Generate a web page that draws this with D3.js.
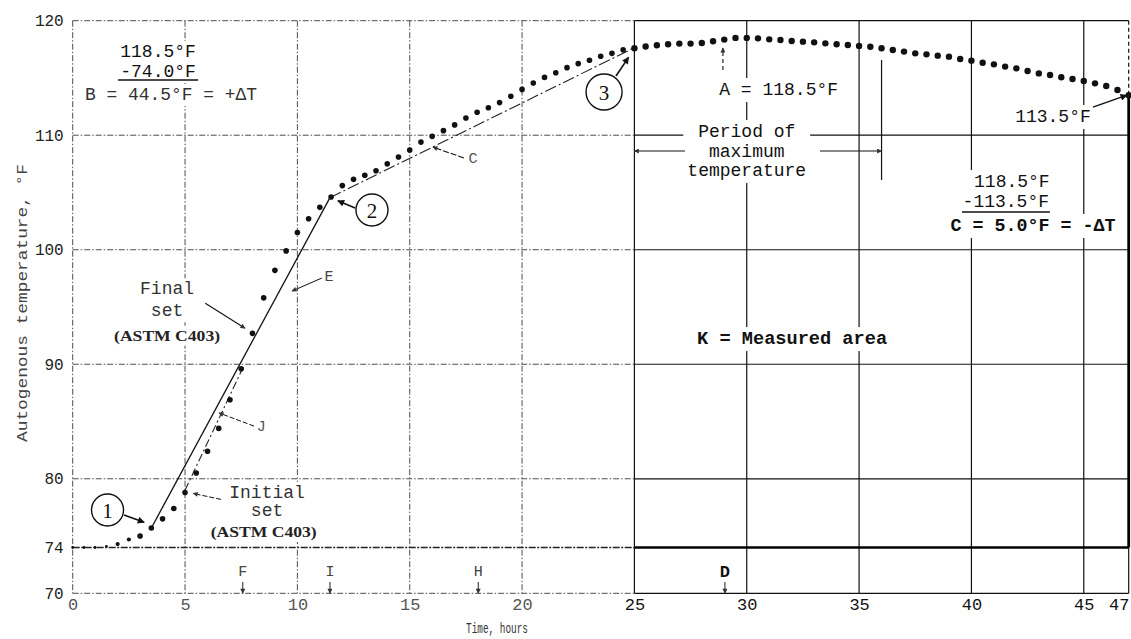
<!DOCTYPE html>
<html><head><meta charset="utf-8">
<script src="https://cdn.jsdelivr.net/npm/d3@7"></script>
<style>body{margin:0;background:#fff}svg{display:block}</style>
</head><body>
<svg id="chart" width="1131" height="639"></svg>
<script>
// ---------------- DATA ----------------
const hours = [0,0.5,1,1.5,2,2.5,3,3.5,4,4.5,
  5,5.5,6,6.5,7,7.5,8,8.5,9,9.5,
  10,10.5,11,11.5,12,12.5,13,13.5,14,14.5,
  15,15.5,16,16.5,17,17.5,18,18.5,19,19.5,
  20,20.5,21,21.5,22,22.5,23,23.5,24,24.5,
  25,25.5,26,26.5,27,27.5,28,28.5,29,29.5,
  30,30.5,31,31.5,32,32.5,33,33.5,34,34.5,
  35,35.5,36,36.5,37,37.5,38,38.5,39,39.5,
  40,40.5,41,41.5,42,42.5,43,43.5,44,44.5,
  45,45.5,46,46.5,47];
const temps = [74.0,74.0,74.0,74.1,74.3,74.7,75.0,75.7,76.5,77.4,
  78.8,80.5,82.4,84.4,86.9,89.6,92.7,95.8,98.2,99.9,
  101.5,102.7,103.7,104.6,105.6,106.15,106.5,106.9,107.5,108.1,
  108.7,109.4,109.9,110.4,110.9,111.5,112.0,112.4,112.85,113.4,
  114.0,114.55,115.05,115.45,115.9,116.25,116.55,116.9,117.15,117.45,
  117.6,117.75,117.85,117.95,118.0,118.0,118.05,118.2,118.35,118.5,
  118.5,118.46,118.37,118.31,118.23,118.17,118.11,118.02,117.95,117.88,
  117.79,117.73,117.59,117.44,117.3,117.15,117.06,116.95,116.86,116.66,
  116.51,116.33,116.19,115.99,115.84,115.61,115.4,115.26,115.06,114.91,
  114.73,114.53,114.3,113.95,113.5];
const xTicks = [0,5,10,15,20,25,30,35,40,45,47];
const yTicks = [70,74,80,90,100,110,120];
// tangent construction lines (hours, °F)
const tangentLine = [[3.5,75.7],[11.45,104.55]];
const lineC = [[11.45,104.55],[24.95,117.6]];
const lineJ = [[5,79.0],[7.6,89.8]];
const bottomMarkers = ["F","I","H","D"];
const bottomMarkerHours = [7.57,11.45,18.05,29.03];

// ---------------- SETUP ----------------
const svg = d3.select("#chart");
const x = d3.scaleLinear().domain([0,47]).range([72.7,1128.7]);
const y = d3.scaleLinear().domain([70,120]).range([593.3,20.7]);
const MONO = "'Liberation Mono','DejaVu Sans Mono',monospace";

const defs = svg.append("defs");
defs.append("marker").attr("id","ah").attr("viewBox","0 0 10 10").attr("refX",9).attr("refY",5)
  .attr("markerWidth",9).attr("markerHeight",7).attr("markerUnits","userSpaceOnUse").attr("orient","auto")
  .append("path").attr("d","M0,0L10,5L0,10z").attr("fill","#111");
defs.append("marker").attr("id","ahs").attr("viewBox","0 0 10 10").attr("refX",9).attr("refY",5)
  .attr("markerWidth",7).attr("markerHeight",5).attr("markerUnits","userSpaceOnUse").attr("orient","auto")
  .append("path").attr("d","M0,0L10,5L0,10z").attr("fill","#333");

const gGrid = svg.append("g");
const gBack = svg.append("g");
const gLines = svg.append("g");
const gDots = svg.append("g");
const gText = svg.append("g");

const SPLIT = 25;
const dashStyle = s => s.attr("stroke","#3a3a3a").attr("stroke-width",0.9).attr("stroke-dasharray","6 2 1.5 2");
const solidStyle = s => s.attr("stroke","#111").attr("stroke-width",1.2);

// vertical grid
xTicks.forEach(t=>{
  if (t===47) return;
  const l = gGrid.append("line").attr("x1",x(t)).attr("x2",x(t)).attr("y1",y(120)).attr("y2",y(70));
  (t>=SPLIT?solidStyle:dashStyle)(l);
});
// right border
solidStyle(gGrid.append("line").attr("x1",x(47)).attr("x2",x(47)).attr("y1",y(120)).attr("y2",y(113.5)).attr("stroke-dasharray","4 3"));
gGrid.append("line").attr("x1",x(47)).attr("x2",x(47)).attr("y1",y(113.5)).attr("y2",y(74)).attr("stroke","#000").attr("stroke-width",2.8);
solidStyle(gGrid.append("line").attr("x1",x(47)).attr("x2",x(47)).attr("y1",y(74)).attr("y2",y(70)));
// horizontal grid
yTicks.forEach(v=>{
  const a = gGrid.append("line").attr("x1",x(0)).attr("x2",x(SPLIT)).attr("y1",y(v)).attr("y2",y(v));
  const b = gGrid.append("line").attr("x1",x(SPLIT)).attr("x2",x(47)).attr("y1",y(v)).attr("y2",y(v));
  if (v===74){
    a.attr("stroke","#222").attr("stroke-width",1.7).attr("stroke-dasharray","7 1.5 2 1.5");
    b.attr("stroke","#000").attr("stroke-width",2.4);
  } else { dashStyle(a); solidStyle(b); }
});
// end-of-period vertical
solidStyle(gGrid.append("line").attr("x1",x(36.0)).attr("x2",x(36.0)).attr("y1",y(116.57)).attr("y2",y(106.09)));

// ---------------- AXES ----------------
const yAxis = svg.append("g").attr("transform",`translate(${x(0)},0)`)
  .call(d3.axisLeft(y).tickValues(yTicks).tickSize(0).tickPadding(9).tickFormat(d3.format("d")));
yAxis.select(".domain").remove();
yAxis.selectAll("text").attr("font-family",MONO).attr("font-size",16).attr("fill","#222");
const xAxis = svg.append("g").attr("transform",`translate(0,${y(70)})`)
  .call(d3.axisBottom(x).tickValues(xTicks).tickSize(0).tickPadding(5).tickFormat(d3.format("d")));
xAxis.select(".domain").remove();
xAxis.selectAll("text").attr("font-family",MONO).attr("font-size",17)
  .attr("fill",d=>d>=25?"#111":"#555")
  .attr("dx",d=>d===47?-10:0);

svg.append("text").attr("x",497).attr("y",633).attr("text-anchor","middle")
  .attr("font-family",MONO).attr("font-size",14).attr("fill","#333")
  .attr("textLength",62).attr("lengthAdjust","spacingAndGlyphs").text("Time, hours");
svg.append("text").attr("transform","translate(23,303) rotate(-90)").attr("text-anchor","middle")
  .attr("dominant-baseline","central").attr("font-family",MONO).attr("font-size",15).attr("fill","#444")
  .attr("textLength",278).attr("lengthAdjust","spacingAndGlyphs").text("Autogenous temperature, °F");

// ---------------- LINES ----------------
const lineGen = d3.line().x(d=>x(d[0])).y(d=>y(d[1]));
gLines.append("path").attr("d",lineGen(tangentLine)).attr("fill","none").attr("stroke","#111").attr("stroke-width",1.3);
gLines.append("path").attr("d",lineGen(lineC)).attr("fill","none").attr("stroke","#222").attr("stroke-width",1.1).attr("stroke-dasharray","12 3 2 3");
gLines.append("path").attr("d",lineGen(lineJ)).attr("fill","none").attr("stroke","#222").attr("stroke-width",1.1).attr("stroke-dasharray","8 3 2 3");

// ---------------- DOTS ----------------
gDots.selectAll("circle").data(hours).join("circle")
  .attr("cx",(d)=>x(d)).attr("cy",(d,i)=>y(temps[i]))
  .attr("r",d=>d<2?1.4:d<3?2.1:d<25?2.8:3.2).attr("fill","#111");

// ---------------- ANNOTATIONS ----------------
function label(lines, t, T, opt={}){
  const fs = opt.size||18, lh = opt.lh||(fs*1.1);
  const g = gText.append("g");
  lines.forEach((s,i)=>{
    const tx = g.append("text").attr("x",x(t)).attr("y",y(T)+i*lh)
      .attr("text-anchor",opt.anchor||"middle").attr("dominant-baseline","central")
      .attr("font-family",opt.font||MONO).attr("font-size",fs)
      .attr("font-weight",opt.weight||"normal").attr("fill",opt.color||"#111").text(s);
    if (opt.len && opt.len[i]) tx.attr("textLength",opt.len[i]).attr("lengthAdjust","spacingAndGlyphs");
  });
  if (opt.back!==false){
    const b = g.node().getBBox(), p = opt.pad||3;
    gBack.append("rect").attr("x",b.x-p).attr("y",b.y-p+2).attr("width",b.width+2*p).attr("height",b.height+2*p-4).attr("fill","#fff");
  }
  return g;
}
function arrow(a,b,opt={}){
  gText.append("line").attr("x1",x(a[0])).attr("y1",y(a[1])).attr("x2",x(b[0])).attr("y2",y(b[1]))
    .attr("stroke",opt.color||"#111").attr("stroke-width",opt.w||1.3)
    .attr("stroke-dasharray",opt.dash||null).attr("marker-end",opt.head===false?null:`url(#${opt.small?"ahs":"ah"})`);
}
function circleMark(n,t,T,r){
  gText.append("circle").attr("cx",x(t)).attr("cy",y(T)).attr("r",r).attr("fill","#fff").attr("stroke","#111").attr("stroke-width",1.4);
  gText.append("text").attr("x",x(t)).attr("y",y(T)+1).attr("text-anchor","middle").attr("dominant-baseline","central")
    .attr("font-family","'Liberation Serif',serif").attr("font-size",21).attr("fill","#111").text(n);
}

// B block
label(["118.5°F"],3.8,117.27,{});
label(["-74.0°F"],3.8,115.52,{});
gText.append("line").attr("x1",x(2.02)).attr("x2",x(5.58)).attr("y1",y(114.82)).attr("y2",y(114.82)).attr("stroke","#111").attr("stroke-width",1.4);
label(["B = 44.5°F = +ΔT"],4.37,113.51,{color:"#333",len:[172]});

// Final set
label(["Final","set"],4.2,96.55,{color:"#333",lh:22});
label(["(ASTM C403)"],4.2,92.5,{color:"#222",size:15,weight:"bold",font:"'Liberation Serif',serif",len:[106]});
arrow([5.9,95.33],[7.67,93.15],{small:true,w:1.1});
// E
label(["E"],11.41,97.6,{color:"#444",size:15});
arrow([11.09,97.53],[9.76,96.39],{small:true,w:1});
// J
label(["J"],8.39,84.44,{color:"#555",size:15});
arrow([8.07,84.6],[6.51,85.75],{small:true,w:1,dash:"5 2"});
// Initial set
label(["Initial","set"],8.65,78.76,{color:"#333",lh:18});
label(["(ASTM C403)"],8.5,75.35,{color:"#222",size:15,weight:"bold",font:"'Liberation Serif',serif",len:[106]});
arrow([6.6,78.2],[5.36,78.72],{small:true,w:1,dash:"5 2"});
// C
label(["C"],17.82,107.84,{color:"#555",size:15});
arrow([17.41,108.01],[16.03,108.97],{small:true,w:1.1,dash:"6 2"});

// circled points
circleMark("1",1.55,77.27,16);
arrow([2.28,76.84],[3.18,76.2],{w:1.6});
circleMark("2",13.32,103.47,16);
arrow([12.57,103.64],[11.8,104.28],{w:1.6});
circleMark("3",23.65,113.77,18);
arrow([24.18,115.17],[24.74,116.8],{w:1.6});

// A
label(["A = 118.5°F"],31.42,113.95,{pad:4});
arrow([28.94,115.69],[28.94,117.62],{small:true,dash:"4 3",w:1.1});
// Period of maximum temperature
label(["Period of","maximum","temperature"],30.0,110.28,{lh:19.5,pad:4});
arrow([27.25,108.62],[25.0,108.62],{small:true,w:1.1});
arrow([33.26,108.62],[36.0,108.62],{small:true,w:1.1});
// 113.5
label(["113.5°F"],43.63,111.59,{pad:4});
arrow([45.41,112.46],[46.92,113.5],{w:1.4});
// C block
label(["118.5°F"],41.8,105.91,{pad:4});
label(["-113.5°F"],41.53,104.17,{pad:4});
gText.append("line").attr("x1",x(39.58)).attr("x2",x(43.49)).attr("y1",y(103.3)).attr("y2",y(103.3)).attr("stroke","#111").attr("stroke-width",1.6);
label(["C = 5.0°F = -ΔT"],42.74,102.07,{pad:4,weight:"bold",len:[165]});
// K
label(["K = Measured area"],27.79,92.2,{anchor:"start",weight:"bold",pad:4,len:[190]});

// bottom markers
bottomMarkers.forEach((m,i)=>{
  const t = bottomMarkerHours[i];
  const bold = m==="D";
  gText.append("text").attr("x",x(t)).attr("y",572).attr("text-anchor","middle").attr("dominant-baseline","central")
    .attr("font-family",MONO).attr("font-size",bold?17:15).attr("font-weight",bold?"bold":"normal")
    .attr("fill",bold?"#111":"#444").text(m);
  gText.append("line").attr("x1",x(t)).attr("x2",x(t)).attr("y1",582).attr("y2",y(70))
    .attr("stroke","#222").attr("stroke-width",1).attr("marker-end","url(#ahs)");
});
</script>
</body></html>
